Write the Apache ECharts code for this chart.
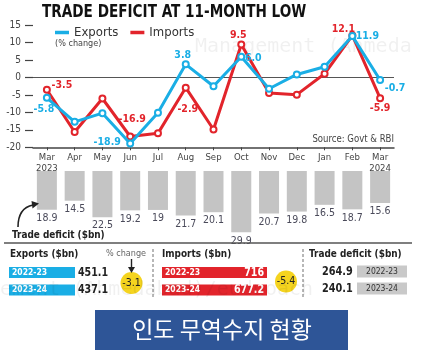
<!DOCTYPE html>
<html><head><meta charset="utf-8">
<script src="https://cdn.jsdelivr.net/npm/echarts@6/dist/echarts.min.js"></script>
<style>html,body{margin:0;padding:0;background:#fff}#c{width:424px;height:350px}</style>
</head><body><div id="c"></div>
<script>
// ---- data ----
const months = ['Mar\n2023','Apr','May','Jun','Jul','Aug','Sep','Oct','Nov','Dec','Jan','Feb','Mar\n2024'];
const exportsChg = [-5.8,-12.7,-10.2,-18.9,-10.1,3.8,-2.5,6.0,-3.2,0.9,3.1,11.9,-0.7];
const importsChg = [-3.5,-15.6,-6.0,-16.9,-16.0,-2.9,-14.9,9.5,-4.4,-4.9,1.1,12.1,-5.9];
const tradeDeficit = [18.9,14.5,22.5,19.2,19,21.7,20.1,29.9,20.7,19.8,16.5,18.7,15.6];
const annualYears = ['2022-23','2023-24'];
const annualExports = [451.1,437.1];
const annualImports = [716,677.2];
const annualDeficit = [264.9,240.1];
const exportsPct = -3.1;
const importsPct = -5.4;

// ---- styles ----
const CYAN = '#1aaee5', RED = '#e2242b', GREY = '#c4c4c4';
const NARROW = '"DejaVu Sans Condensed",sans-serif';
const expLabelOffset = {0:[-3,11],3:[-23,-1],5:[-3,-9],7:[12,2],11:[15,0],12:[15,8]};
const impLabelOffset = {0:[15,-5],3:[2,-17],5:[2,22],7:[-3,-9],11:[-9,-6],12:[0,10]};

function withLabels(vals, offs, color){
  return vals.map((v,i)=> offs[i] ? {value:v,label:{show:true,position:'inside',offset:offs[i],
    color:color,fontFamily:NARROW,fontWeight:'bold',fontSize:10.5,formatter:(p)=>p.value.toFixed(1)}} : v);
}
function txt(x,y,text,o){
  o=o||{};
  return {type:'text',z:o.z||10,x:x,y:y,scaleX:o.sx||1,style:{x:0,y:0,text:text,fill:o.fill||'#222',
    font:(o.weight||'normal')+' '+(o.size||11)+'px '+(o.family||NARROW),
    textAlign:o.align||'left',align:o.align||'left',textVerticalAlign:'middle',verticalAlign:'middle',opacity:o.opacity==null?1:o.opacity}};
}
function rect(x,y,w,h,fill){return {type:'rect',z:5,shape:{x:x,y:y,width:w,height:h},style:{fill:fill}};}

const chart = echarts.init(document.getElementById('c'),null,{renderer:'canvas'});
const graphics = [
  txt(42,13,'TRADE DEFICIT AT 11-MONTH LOW',{weight:'bold',size:17,fill:'#111',sx:0.89}),
  txt(55,44,'(% change)',{size:9,fill:'#444'}),
  txt(394,139,'Source: Govt & RBI',{size:10,fill:'#444',align:'right',sx:0.95}),
  // watermark
  txt(195,47,'Management (Ahmeda',{size:20,family:'"DejaVu Sans Mono",monospace',fill:'#000',opacity:0.06,z:1}),
  txt(0,290,'ement (Ahmedabad)/euduoach',{size:20,family:'"DejaVu Sans Mono",monospace',fill:'#000',opacity:0.06,z:20}),
  // trade deficit caption + arrow
  txt(12,235,'Trade deficit ($bn)',{weight:'bold',size:11,fill:'#222',sx:0.9}),
  {type:'bezierCurve',z:10,shape:{x1:18,y1:227,cpx1:18,cpy1:208,x2:33,y2:205},style:{stroke:'#222',lineWidth:1.6,fill:null}},
  {type:'polygon',z:10,shape:{points:[[39,203.5],[31.5,201],[32.5,208.5]]},style:{fill:'#222'}},
  // separator
  {type:'line',z:10,shape:{x1:4,y1:243,x2:412,y2:243},style:{stroke:'#555',lineWidth:1.5}},
  // exports block
  txt(10,254,'Exports ($bn)',{weight:'bold',size:11,sx:0.9}),
  txt(126,254,'% change',{size:9.5,fill:'#666',align:'center',sx:0.95}),
  {type:'line',z:10,shape:{x1:131.5,y1:259,x2:131.5,y2:268},style:{stroke:'#222',lineWidth:1.4}},
  {type:'polygon',z:10,shape:{points:[[128,267],[135,267],[131.5,273]]},style:{fill:'#222'}},
  rect(9,267,66,11,CYAN), rect(9,284.5,66,11,CYAN),
  txt(12,272.5,annualYears[0],{weight:'bold',size:8.5,fill:'#fff',z:11}),
  txt(12,290,annualYears[1],{weight:'bold',size:8.5,fill:'#fff',z:11}),
  txt(78,272.5,annualExports[0].toFixed(1),{weight:'bold',size:12,sx:0.88}),
  txt(78,290,annualExports[1].toFixed(1),{weight:'bold',size:12,sx:0.88}),
  {type:'circle',z:8,shape:{cx:131.5,cy:283,r:11},style:{fill:'#f5d41f'}},
  txt(131.5,283,String(exportsPct.toFixed(1)),{size:10.5,align:'center',fill:'#222',z:11}),
  {type:'line',z:10,shape:{x1:153,y1:249,x2:153,y2:297},style:{stroke:'#888',lineWidth:1.2,lineDash:[3,2]}},
  // imports block
  txt(162,254,'Imports ($bn)',{weight:'bold',size:11,sx:0.9}),
  rect(162,267,105,11,RED), rect(162,284.5,105,11,RED),
  txt(165,272.5,annualYears[0],{weight:'bold',size:8.5,fill:'#fff',z:11}),
  txt(165,290,annualYears[1],{weight:'bold',size:8.5,fill:'#fff',z:11}),
  txt(264,272.5,String(annualImports[0]),{weight:'bold',size:12,fill:'#fff',align:'right',z:11,sx:0.88}),
  txt(264,290,annualImports[1].toFixed(1),{weight:'bold',size:12,fill:'#fff',align:'right',z:11,sx:0.88}),
  {type:'circle',z:8,shape:{cx:286,cy:281.5,r:11},style:{fill:'#f5d41f'}},
  txt(286,281.5,importsPct.toFixed(1),{size:10.5,align:'center',fill:'#222',z:11}),
  {type:'line',z:10,shape:{x1:303,y1:249,x2:303,y2:297},style:{stroke:'#888',lineWidth:1.2,lineDash:[3,2]}},
  // deficit block
  txt(309,254,'Trade deficit ($bn)',{weight:'bold',size:11,sx:0.9}),
  txt(322,271.5,annualDeficit[0].toFixed(1),{weight:'bold',size:12,sx:0.9}),
  txt(322,288.5,annualDeficit[1].toFixed(1),{weight:'bold',size:12,sx:0.9}),
  rect(357,265.5,50,12,'#c9c9c9'), rect(357,282.5,50,12,'#c9c9c9'),
  txt(382,271.5,annualYears[0],{size:8.5,fill:'#333',align:'center',z:11}),
  txt(382,288.5,annualYears[1],{size:8.5,fill:'#333',align:'center',z:11}),
  // banner
  rect(95,310,253,40,'#2e5597'),
  txt(222,329,'인도 무역수지 현황',{size:23,family:'"Noto Sans CJK KR",sans-serif',fill:'#fff',align:'center',z:11})
];

chart.setOption({
  animation:false,
  backgroundColor:'#fff',
  legend:{left:50,top:21,icon:'rect',itemWidth:14,itemHeight:3.5,itemGap:12,itemTextGap:3,
    textStyle:{fontSize:13,color:'#333',fontFamily:NARROW},
    data:[{name:'Exports',itemStyle:{color:CYAN,borderWidth:0}},{name:'Imports',itemStyle:{color:RED,borderWidth:0}}]},
  grid:[{left:33,width:361,top:25.3,height:122},{left:33,width:361,top:171,height:82}],
  xAxis:[
    {type:'category',gridIndex:0,data:months,boundaryGap:true,
     axisLine:{onZero:false,lineStyle:{color:'#444',width:1.5}},
     axisTick:{show:true,alignWithLabel:true,interval:0,length:3,lineStyle:{color:'#444'}},
     axisLabel:{interval:0,fontSize:9.5,color:'#444',margin:5,lineHeight:10.5,fontFamily:NARROW}},
    {type:'category',gridIndex:1,data:months,boundaryGap:true,show:false}
  ],
  yAxis:[
    {type:'value',gridIndex:0,min:-20,max:15,interval:5,
     axisLine:{show:false},splitLine:{show:false},
     axisTick:{show:true,length:8,lineStyle:{color:'#444',width:1.2}},
     axisLabel:{fontSize:10,color:'#444',margin:12,fontFamily:NARROW}},
    {type:'value',gridIndex:1,min:0,max:40,inverse:true,show:false,splitLine:{show:false}}
  ],
  series:[
    {name:'Imports',type:'line',xAxisIndex:0,yAxisIndex:0,data:withLabels(importsChg,impLabelOffset,RED),
     color:RED,symbol:'emptyCircle',symbolSize:6,lineStyle:{width:3,color:RED},
     itemStyle:{color:RED,borderWidth:1.5},z:3,
     markLine:{silent:true,symbol:'none',label:{show:false},lineStyle:{color:'#555',width:1.2,type:'solid'},data:[{yAxis:0}],z:1}},
    {name:'Exports',type:'line',xAxisIndex:0,yAxisIndex:0,data:withLabels(exportsChg,expLabelOffset,CYAN),
     color:CYAN,symbol:'emptyCircle',symbolSize:6,lineStyle:{width:3,color:CYAN},
     itemStyle:{color:CYAN,borderWidth:1.5},z:4},
    {name:'Trade deficit',type:'bar',xAxisIndex:1,yAxisIndex:1,data:tradeDeficit,barWidth:20,
     itemStyle:{color:GREY},
     label:{show:true,position:'bottom',distance:3,fontSize:10.5,color:'#4a4a5a',fontFamily:NARROW}}
  ],
  graphic:graphics
});
</script></body></html>
